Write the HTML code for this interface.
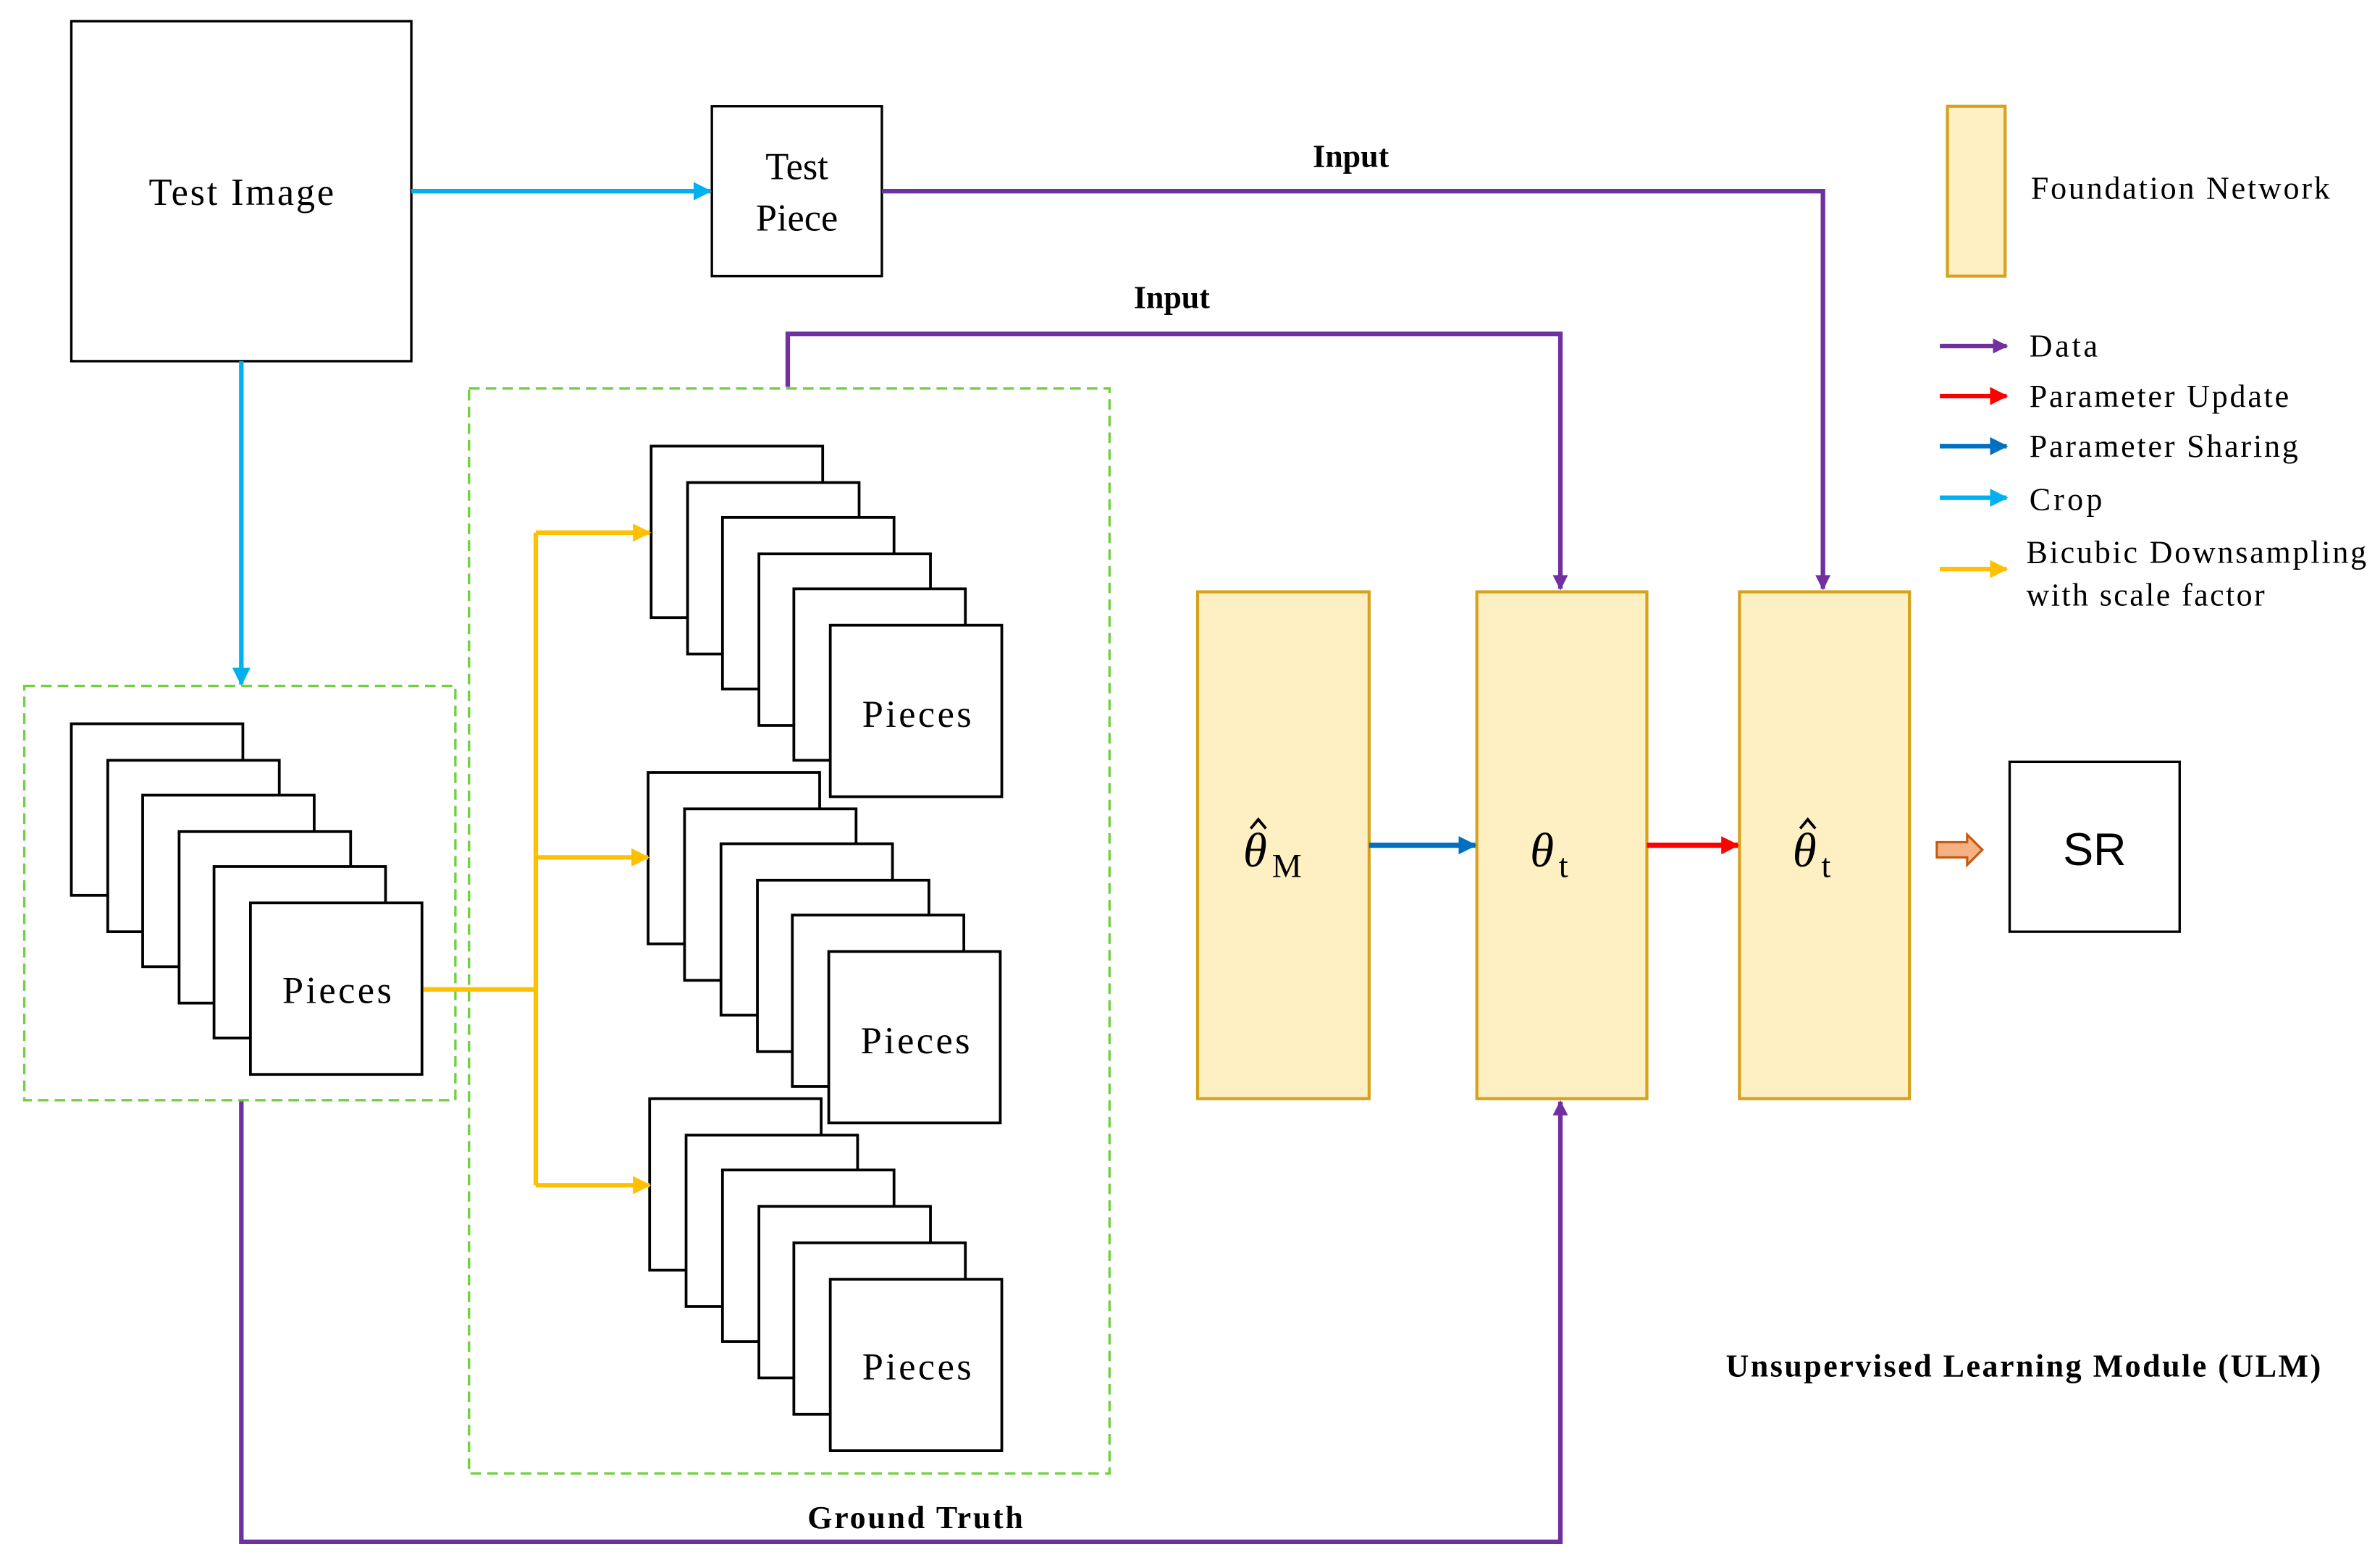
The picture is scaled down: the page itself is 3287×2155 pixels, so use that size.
<!DOCTYPE html>
<html><head><meta charset="utf-8"><style>html,body{margin:0;padding:0;background:#fff}svg{display:block}text{font-family:"Liberation Serif",serif}</style></head>
<body>
<svg width="3287" height="2155" viewBox="0 0 1568 1028" xmlns="http://www.w3.org/2000/svg">
<defs>
<marker id="mp" markerWidth="10" markerHeight="10" refX="9" refY="5" orient="auto" markerUnits="userSpaceOnUse"><path d="M0,0 L10,5 L0,10 z" fill="#7030a0"/></marker>
<marker id="mc" markerWidth="12" markerHeight="12" refX="11" refY="6" orient="auto" markerUnits="userSpaceOnUse"><path d="M0,0 L12,6 L0,12 z" fill="#00b0f0"/></marker>
<marker id="my" markerWidth="12" markerHeight="12" refX="11" refY="6" orient="auto" markerUnits="userSpaceOnUse"><path d="M0,0 L12,6 L0,12 z" fill="#ffc000"/></marker>
<marker id="mb" markerWidth="12" markerHeight="12" refX="11" refY="6" orient="auto" markerUnits="userSpaceOnUse"><path d="M0,0 L12,6 L0,12 z" fill="#0070c0"/></marker>
<marker id="mr" markerWidth="12" markerHeight="12" refX="11" refY="6" orient="auto" markerUnits="userSpaceOnUse"><path d="M0,0 L12,6 L0,12 z" fill="#ff0000"/></marker>
</defs>
<g fill="#fff" stroke="#000" stroke-width="1.6">
<rect x="47" y="14" width="224" height="224"/>
<rect x="469" y="70" width="112" height="112"/>
<rect x="1324" y="502" width="112" height="112"/>
</g>
<g font-size="25" text-anchor="middle">
<text x="159" y="135" textLength="122">Test Image</text>
<text x="525" y="118">Test</text>
<text x="525" y="152">Piece</text>
<text x="1380" y="570" style="font-family:'Liberation Sans',sans-serif" font-size="30">SR</text>
</g>
<g stroke="#00b0f0" stroke-width="3" fill="none">
<line x1="271" y1="126" x2="468" y2="126" marker-end="url(#mc)"/>
<line x1="159" y1="238" x2="159" y2="451" marker-end="url(#mc)"/>
</g>
<g stroke="#7030a0" stroke-width="3" fill="none">
<polyline points="581,126 1201,126 1201,388" marker-end="url(#mp)"/>
<polyline points="519,255 519,220 1028,220 1028,388" marker-end="url(#mp)"/>
<polyline points="159,725 159,1016 1028,1016 1028,726" marker-end="url(#mp)"/>
</g>
<g font-weight="bold" font-size="21" text-anchor="middle">
<text x="890" y="110">Input</text>
<text x="772" y="203">Input</text>
<text x="603" y="1007" textLength="142">Ground Truth</text>
<text x="1333" y="907" textLength="392">Unsupervised Learning Module (ULM)</text>
</g>
<g stroke="#70d040" stroke-width="1.6" stroke-dasharray="7,4" fill="none">
<rect x="16" y="452" width="284" height="273"/>
<rect x="309" y="256" width="422" height="715"/>
</g>
<g fill="#fff" stroke="#000" stroke-width="1.8">
<rect x="47" y="477" width="113" height="113"/><rect x="71" y="501" width="113" height="113"/><rect x="94" y="524" width="113" height="113"/><rect x="118" y="548" width="113" height="113"/><rect x="141" y="571" width="113" height="113"/><rect x="165" y="595" width="113" height="113"/>
<rect x="429" y="294" width="113" height="113"/><rect x="453" y="318" width="113" height="113"/><rect x="476" y="341" width="113" height="113"/><rect x="500" y="365" width="113" height="113"/><rect x="523" y="388" width="113" height="113"/><rect x="547" y="412" width="113" height="113"/>
<rect x="427" y="509" width="113" height="113"/><rect x="451" y="533" width="113" height="113"/><rect x="475" y="556" width="113" height="113"/><rect x="499" y="580" width="113" height="113"/><rect x="522" y="603" width="113" height="113"/><rect x="546" y="627" width="113" height="113"/>
<rect x="428" y="724" width="113" height="113"/><rect x="452" y="748" width="113" height="113"/><rect x="476" y="771" width="113" height="113"/><rect x="500" y="795" width="113" height="113"/><rect x="523" y="819" width="113" height="113"/><rect x="547" y="843" width="113" height="113"/>
</g>
<g font-size="25" text-anchor="middle">
<text x="222" y="661" textLength="72">Pieces</text>
<text x="604" y="479" textLength="72">Pieces</text>
<text x="603" y="694" textLength="72">Pieces</text>
<text x="604" y="909" textLength="72">Pieces</text>
</g>
<g stroke="#ffc000" stroke-width="3" fill="none">
<polyline points="279,652 353,652"/>
<line x1="353" y1="351" x2="353" y2="781"/>
<line x1="353" y1="351" x2="428" y2="351" marker-end="url(#my)"/>
<line x1="353" y1="565" x2="427" y2="565" marker-end="url(#my)"/>
<line x1="353" y1="781" x2="428" y2="781" marker-end="url(#my)"/>
</g>
<g fill="#fff0c4" stroke="#d6a21d" stroke-width="2">
<rect x="789" y="390" width="113" height="334"/>
<rect x="973" y="390" width="112" height="334"/>
<rect x="1146" y="390" width="112" height="334"/>
<rect x="1283" y="70" width="38" height="112"/>
</g>
<g stroke-width="3.5" fill="none">
<line x1="902" y1="557" x2="972" y2="557" stroke="#0070c0" marker-end="url(#mb)"/>
<line x1="1085" y1="557" x2="1145" y2="557" stroke="#ff0000" marker-end="url(#mr)"/>
</g>
<g font-size="32" font-style="italic">
<text x="819" y="571">θ</text><text x="838" y="578" font-style="normal" font-size="22">M</text>
<text x="1008" y="571">θ</text><text x="1027" y="578" font-style="normal" font-size="22">t</text>
<text x="1181" y="571">θ</text><text x="1200" y="578" font-style="normal" font-size="22">t</text>
</g>
<g stroke="#000" stroke-width="1.8" fill="none">
<polyline points="824,546 829,540 834,546"/>
<polyline points="1186,546 1191,540 1196,546"/>
</g>
<path d="M1276,555 L1296,555 L1296,550 L1306,560 L1296,570 L1296,565 L1276,565 z" fill="#f4b183" stroke="#c55a11" stroke-width="1.5"/>
<g stroke-width="3" fill="none">
<line x1="1278" y1="228" x2="1322" y2="228" stroke="#7030a0" marker-end="url(#mp)"/>
<line x1="1278" y1="261" x2="1322" y2="261" stroke="#ff0000" marker-end="url(#mr)"/>
<line x1="1278" y1="294" x2="1322" y2="294" stroke="#0070c0" marker-end="url(#mb)"/>
<line x1="1278" y1="328" x2="1322" y2="328" stroke="#00b0f0" marker-end="url(#mc)"/>
<line x1="1278" y1="375" x2="1322" y2="375" stroke="#ffc000" marker-end="url(#my)"/>
</g>
<g font-size="21">
<text x="1338" y="131" textLength="197">Foundation Network</text>
<text x="1337" y="235" textLength="45">Data</text>
<text x="1337" y="268" textLength="171">Parameter Update</text>
<text x="1337" y="301" textLength="177">Parameter Sharing</text>
<text x="1337" y="336" textLength="48">Crop</text>
<text x="1335" y="371" textLength="224">Bicubic Downsampling</text>
<text x="1335" y="399" textLength="157">with scale factor</text>
</g>
</svg>
</body></html>
